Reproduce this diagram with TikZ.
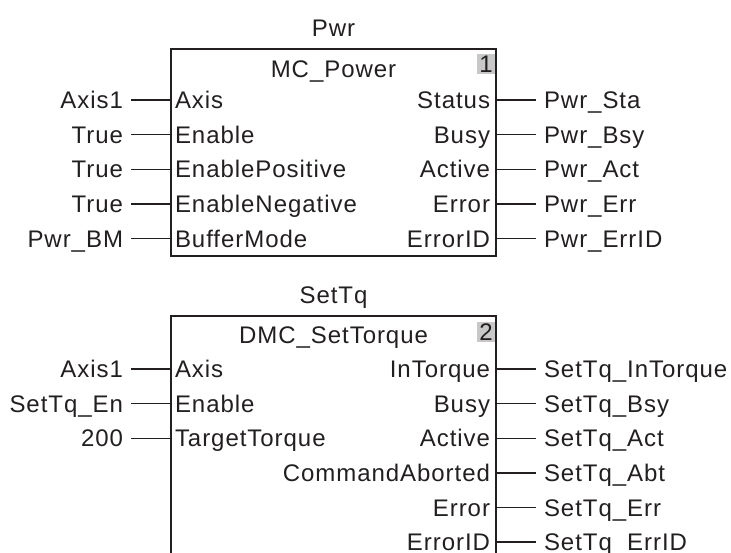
\documentclass[tikz,border=0pt]{standalone}
\usepackage{fontspec}
\setmainfont[LetterSpace=4]{Liberation Sans}
\usepackage{tikz}
\usetikzlibrary{positioning}
\definecolor{fbink}{RGB}{35,31,32}
\definecolor{fbnum}{RGB}{200,200,200}
\tikzset{
  fbbox/.style={fbink,line width=1pt},
  wire/.style={fbink,line width=0.7pt},
  pinin/.style={anchor=west,inner sep=2pt},
  pinout/.style={anchor=east,inner sep=3pt},
  varin/.style={inner sep=4pt,left=20pt of #1},
  varout/.style={inner sep=4pt,right=20pt of #1}
}

\begin{document}
\begin{tikzpicture}[x=0.5pt,y=-0.5pt,text=fbink,font=\fontsize{12}{14}\selectfont,
  every node/.append style={outer sep=0pt,text height=8.6pt,text depth=0pt}]
\useasboundingbox (0,0) rectangle (731,552);
% block 1 : MC_Power
\draw[fbbox] (171,49) rectangle (496,256);
\fill[fbnum] (477,54) rectangle (495,74);
\node (num1) at (486,64) {1};
\node (pwr) at (333.5,27.5) {Pwr};
\node (mcpower) at (333.5,68.5) {MC\_Power};
% inputs
\node[pinin] (p1axis) at (171,100) {Axis};
\node[pinin] (p1en) at (171,134.6) {Enable};
\node[pinin] (p1pos) at (171,169.2) {EnablePositive};
\node[pinin] (p1neg) at (171,203.8) {EnableNegative};
\node[pinin] (p1bm) at (171,238.4) {BufferMode};
\node[varin=p1axis] (v1axis) {Axis1};
\node[varin=p1en] (v1en) {True};
\node[varin=p1pos] (v1pos) {True};
\node[varin=p1neg] (v1neg) {True};
\node[varin=p1bm] (v1bm) {Pwr\_BM};
\draw[wire] (v1axis.east)--(p1axis.west);
\draw[wire] (v1en.east)--(p1en.west);
\draw[wire] (v1pos.east)--(p1pos.west);
\draw[wire] (v1neg.east)--(p1neg.west);
\draw[wire] (v1bm.east)--(p1bm.west);
% outputs
\node[pinout] (p1sta) at (496,100) {Status};
\node[pinout] (p1bsy) at (496,134.6) {Busy};
\node[pinout] (p1act) at (496,169.2) {Active};
\node[pinout] (p1err) at (496,203.8) {Error};
\node[pinout] (p1eid) at (496,238.4) {ErrorID};
\node[varout=p1sta] (v1sta) {Pwr\_Sta};
\node[varout=p1bsy] (v1bsy) {Pwr\_Bsy};
\node[varout=p1act] (v1act) {Pwr\_Act};
\node[varout=p1err] (v1err) {Pwr\_Err};
\node[varout=p1eid] (v1eid) {Pwr\_ErrID};
\draw[wire] (p1sta.east)--(v1sta.west);
\draw[wire] (p1bsy.east)--(v1bsy.west);
\draw[wire] (p1act.east)--(v1act.west);
\draw[wire] (p1err.east)--(v1err.west);
\draw[wire] (p1eid.east)--(v1eid.west);

% block 2 : DMC_SetTorque (runs past the bottom edge)
\draw[fbbox] (171,580)--(171,316)--(496,316)--(496,580);
\fill[fbnum] (477,322) rectangle (495,342);
\node (num2) at (486,332) {2};
\node (settq) at (333.5,295) {SetTq};
\node (dmcsettq) at (333.5,335) {DMC\_SetTorque};
% inputs
\node[pinin] (p2axis) at (171,369) {Axis};
\node[pinin] (p2en) at (171,403.6) {Enable};
\node[pinin] (p2tq) at (171,438.2) {TargetTorque};
\node[varin=p2axis] (v2axis) {Axis1};
\node[varin=p2en] (v2en) {SetTq\_En};
\node[varin=p2tq] (v2tq) {200};
\draw[wire] (v2axis.east)--(p2axis.west);
\draw[wire] (v2en.east)--(p2en.west);
\draw[wire] (v2tq.east)--(p2tq.west);
% outputs
\node[pinout] (p2intq) at (496,369) {InTorque};
\node[pinout] (p2bsy) at (496,403.6) {Busy};
\node[pinout] (p2act) at (496,438.2) {Active};
\node[pinout] (p2abt) at (496,472.8) {CommandAborted};
\node[pinout] (p2err) at (496,507.4) {Error};
\node[pinout] (p2eid) at (496,542) {ErrorID};
\node[varout=p2intq] (v2intq) {SetTq\_InTorque};
\node[varout=p2bsy] (v2bsy) {SetTq\_Bsy};
\node[varout=p2act] (v2act) {SetTq\_Act};
\node[varout=p2abt] (v2abt) {SetTq\_Abt};
\node[varout=p2err] (v2err) {SetTq\_Err};
\node[varout=p2eid] (v2eid) {SetTq\_ErrID};
\draw[wire] (p2intq.east)--(v2intq.west);
\draw[wire] (p2bsy.east)--(v2bsy.west);
\draw[wire] (p2act.east)--(v2act.west);
\draw[wire] (p2abt.east)--(v2abt.west);
\draw[wire] (p2err.east)--(v2err.west);
\draw[wire] (p2eid.east)--(v2eid.west);
\end{tikzpicture}
\end{document}
